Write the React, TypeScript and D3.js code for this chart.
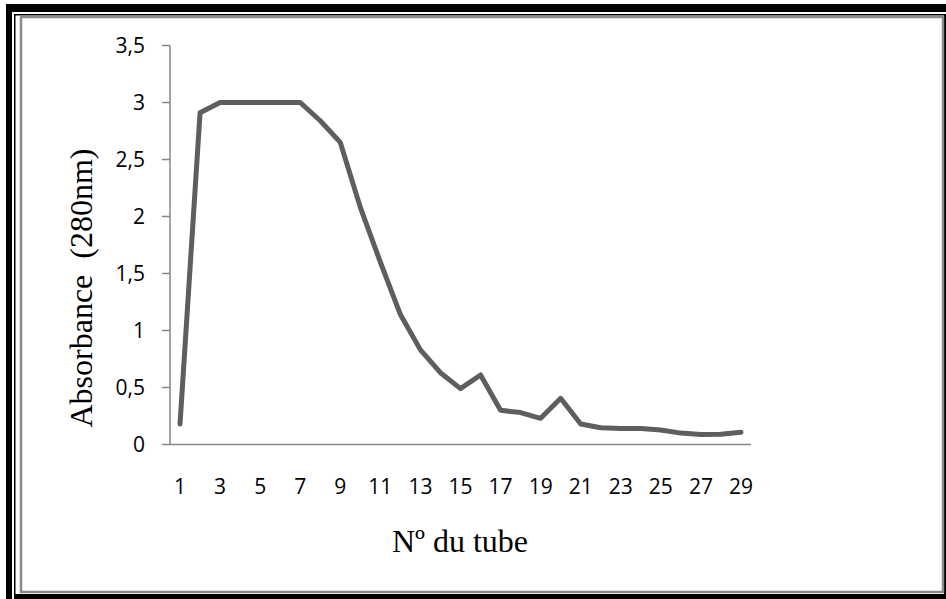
import React from "react";
import * as d3 from "d3";

const tubes: string[] = [
  "1","2","3","4","5","6","7","8","9","10","11","12","13","14","15",
  "16","17","18","19","20","21","22","23","24","25","26","27","28","29",
];
const absorbance: number[] = [
  0.18, 2.91, 3.0, 3.0, 3.0, 3.0, 3.0, 2.84, 2.65, 2.08, 1.6, 1.14, 0.83, 0.63, 0.49,
  0.61, 0.3, 0.28, 0.23, 0.405, 0.18, 0.147, 0.14, 0.14, 0.127, 0.1, 0.088, 0.09, 0.107,
];
const yTickValues: number[] = [0, 0.5, 1, 1.5, 2, 2.5, 3, 3.5];
const yTickLabels: string[] = ["0", "0,5", "1", "1,5", "2", "2,5", "3", "3,5"];
const xLabelEvery = 2;
const yTitle = "Absorbance  (280nm)";
const xTitle = "Nº du tube";

export default function App() {
  const W = 946;
  const H = 599;
  const x = d3.scaleBand<string>().domain(tubes).range([170, 751]).padding(0);
  const y = d3.scaleLinear().domain([0, 3.5]).range([444.5, 45.5]);
  const cx = (t: string) => (x(t) as number) + x.bandwidth() / 2;
  const line = d3
    .line<number>()
    .x((_, i) => cx(tubes[i]))
    .y((d) => y(d));
  const axisColor = "#868686";
  const tickFont = "'Open Sans', 'Noto Sans', sans-serif";
  const serif = "'Liberation Serif', 'Times New Roman', serif";

  return (
    <svg
      width={W}
      height={H}
      style={{ position: "absolute", left: 0, top: 0, background: "#fff" }}
    >
      {/* frame */}
      <rect x={6} y={4} width={940} height={595} fill="#000" />
      <rect x={12} y={12} width={934} height={587} fill="#fff" />
      <rect x={14} y={14} width={932} height={585} fill="#000" />
      <rect x={15.5} y={15.5} width={928.5} height={578.5} fill="#fff" />
      <rect x={21} y={17} width={922} height={575} fill="#fff" stroke="#8a8a8a" strokeWidth={2.5} />

      {/* y axis */}
      <line x1={170} x2={170} y1={y(3.5)} y2={y(0)} stroke={axisColor} strokeWidth={1.5} />
      {yTickValues.map((v, i) => (
        <g key={v}>
          <line x1={162} x2={170} y1={y(v)} y2={y(v)} stroke={axisColor} strokeWidth={1.5} />
          <text
            x={145}
            y={y(v)}
            dy="0.36em"
            textAnchor="end"
            fontFamily={tickFont}
            fontSize={21}
            fill="#000"
          >
            {yTickLabels[i]}
          </text>
        </g>
      ))}

      {/* x axis */}
      <line x1={170} x2={751} y1={y(0)} y2={y(0)} stroke={axisColor} strokeWidth={1.5} />
      {tubes.map((t, i) =>
        i % xLabelEvery === 0 ? (
          <text
            key={t}
            x={cx(t)}
            y={494}
            textAnchor="middle"
            fontFamily={tickFont}
            fontSize={21}
            fill="#000"
          >
            {t}
          </text>
        ) : null
      )}

      {/* series */}
      <path
        d={line(absorbance) || ""}
        fill="none"
        stroke="#5e5e5e"
        strokeWidth={5}
        strokeLinejoin="round"
        strokeLinecap="round"
      />

      {/* titles */}
      <text
        transform={`translate(92, 288) rotate(-90)`}
        textAnchor="middle"
        fontFamily={serif}
        fontSize={32}
        fill="#000"
        style={{ whiteSpace: "pre" }}
      >
        {yTitle}
      </text>
      <text
        x={460}
        y={552}
        textAnchor="middle"
        fontFamily={serif}
        fontSize={32}
        fill="#000"
      >
        {xTitle}
      </text>
    </svg>
  );
}
